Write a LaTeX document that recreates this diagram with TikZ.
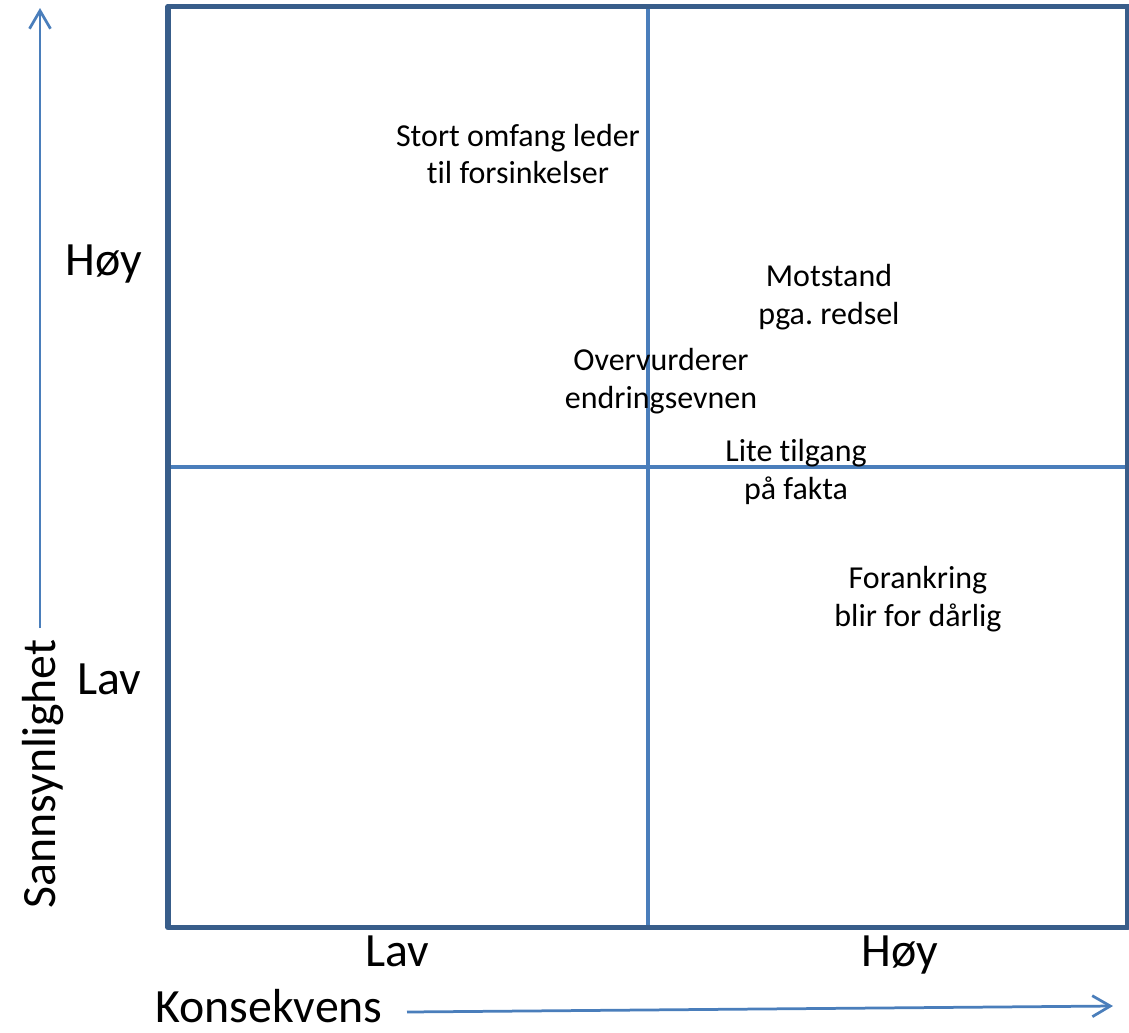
\documentclass[tikz,border=0pt]{standalone}
\usepackage{fontspec}
\setmainfont{Carlito}[Ligatures=NoCommon]
\usepackage{tikz}
\usetikzlibrary{arrows.meta, positioning}
\definecolor{framecolor}{RGB}{56,93,138}
\definecolor{linecolor}{RGB}{74,126,187}
\frenchspacing

\begin{document}
\begin{tikzpicture}[
    x=0.02cm, y=-0.02cm,
    frame/.style={draw=framecolor, line width=0.11cm, line join=round},
    divider/.style={draw=linecolor, line width=0.08cm},
    axis/.style={draw=linecolor, line width=0.055cm, -{Straight Barb[length=0.36cm, width=0.42cm, line width=0.055cm]}},
    biglabel/.style={inner sep=0pt, anchor=base, font=\fontsize{27.2}{33}\selectfont},
    risk/.style={inner sep=0pt, align=center, font=\fontsize{18.2}{21.6}\selectfont}
]
    \useasboundingbox (0,0) rectangle (1129,1032);

    % Matrix corners
    \coordinate (tl) at (168,6.5);
    \coordinate (br) at (1128,927.5);
    \coordinate (vtop) at (648,6.5);
    \coordinate (vbot) at (648,927.5);
    \coordinate (hleft) at (168,467);
    \coordinate (hright) at (1128,467);

    % Dividers
    \draw[divider] (vtop) -- (vbot);
    \draw[divider] (hleft) -- (hright);

    % Frame
    \draw[frame] (tl) rectangle (br);

    % Axes
    \coordinate (ystart) at (40,628);
    \coordinate (yend) at (40,8);
    \coordinate (xstart) at (407,1012);
    \coordinate (xend) at (1113,1006);
    \draw[axis] (ystart) -- (yend);
    \draw[axis] (xstart) -- (xend);

    % Axis labels
    \node[biglabel, rotate=90] (sann) at (55,774) {Sannsynlighet};
    \node[biglabel] (kons) at (269,1022) {Konsekvens};
    \node[biglabel] (yhigh) at (104,275) {Høy};
    \node[biglabel] (ylow) at (109,694) {Lav};
    \node[biglabel] (xlow) at (397,966) {Lav};
    \node[biglabel] (xhigh) at (900,966) {Høy};

    % Risks
    \node[risk] (omfang) at (518,154) {Stort omfang leder\\til forsinkelser};
    \node[risk] (motstand) at (829,297) {Motstand\\pga. redsel};
    \node[risk] (overvurd) at (661,381) {Overvurderer\\endringsevnen};
    \node[risk] (tilgang) at (796,472) {Lite tilgang\\på fakta};
    \node[risk] (forank) at (918,599) {Forankring\\blir for dårlig};
\end{tikzpicture}
\end{document}
